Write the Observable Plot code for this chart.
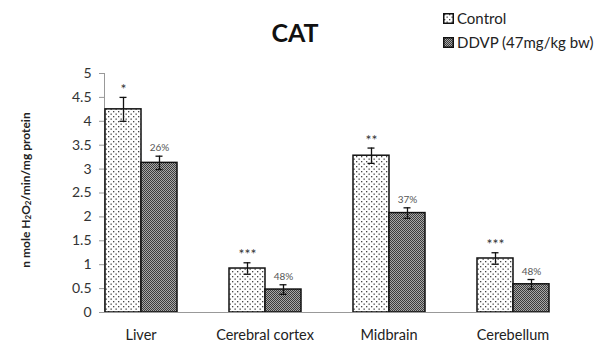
<!DOCTYPE html>
<html>
<head>
<meta charset="utf-8">
<script src="https://cdn.jsdelivr.net/npm/d3@7"></script>
<script src="https://cdn.jsdelivr.net/npm/@observablehq/plot@0.6"></script>
<style>
  html, body { margin: 0; padding: 0; background: #fff; }
  #wrap { position: relative; width: 594px; height: 344px; font-family: Lato, "Open Sans", sans-serif; }
  #title { position: absolute; left: 0; width: 590px; top: 20px; text-align: center; font-weight: bold; font-size: 25px; color: #111; line-height: 1; }
  #ylabel { position: absolute; left: 25px; top: 190px; transform: translate(-50%, -50%) rotate(-90deg); white-space: nowrap; font-weight: bold; font-size: 12px; color: #222; }
  #ylabel sub { font-size: 8px; vertical-align: -1px; }
  #legend { position: absolute; left: 443px; top: 6px; font-size: 15px; color: #222; }
  #legend .row { display: flex; align-items: center; height: 24px; }
  #legend svg { margin-right: 3px; }
</style>
</head>
<body>
<div id="wrap">
  <svg width="0" height="0" style="position:absolute">
    <defs>
      <!-- staggered dot fill for the control series -->
      <pattern id="dots" width="5" height="5" patternUnits="userSpaceOnUse">
        <rect width="5" height="5" fill="#fff"/>
        <rect x="1" y="1" width="1.3" height="1.3" fill="#444"/>
        <rect x="3.5" y="3.5" width="1.3" height="1.3" fill="#444"/>
      </pattern>
      <!-- pixel checkerboard fill for the treated series -->
      <pattern id="checker" width="2" height="2" patternUnits="userSpaceOnUse">
        <rect width="2" height="2" fill="#3c3c3c"/>
        <rect x="0" y="0" width="1" height="1" fill="#a8a8a8"/>
        <rect x="1" y="1" width="1" height="1" fill="#a8a8a8"/>
      </pattern>
    </defs>
  </svg>
  <div id="chart"></div>
  <div id="title">CAT</div>
  <div id="ylabel">n mole H<sub>2</sub>O<sub>2</sub>/min/mg protein</div>
  <div id="legend"></div>
</div>
<script>
// Catalase activity by organ / brain region
const categories = ["Liver", "Cerebral cortex", "Midbrain", "Cerebellum"];
const series = ["Control", "DDVP (47mg/kg bw)"];
const controlValues = [4.25, 0.92, 3.28, 1.13];
const controlErrors = [0.25, 0.12, 0.16, 0.12];
const ddvpValues = [3.13, 0.48, 2.08, 0.59];
const ddvpErrors = [0.14, 0.10, 0.11, 0.10];
const significance = ["*", "***", "**", "***"];
const decrease = ["26%", "48%", "37%", "48%"];
const yTicks = [0, 0.5, 1, 1.5, 2, 2.5, 3, 3.5, 4, 4.5, 5];
const fills = ["url(#dots)", "url(#checker)"];

const rows = [];
categories.forEach((c, i) => {
  rows.push({category: c, series: series[0], value: controlValues[i], err: controlErrors[i], note: significance[i]});
  rows.push({category: c, series: series[1], value: ddvpValues[i], err: ddvpErrors[i], note: decrease[i]});
});

const chart = Plot.plot({
  width: 594,
  height: 344,
  marginLeft: 77,
  marginRight: 19,
  marginTop: 73,
  marginBottom: 32,
  style: {fontFamily: "Lato, 'Open Sans', sans-serif", background: "transparent"},
  fx: {domain: categories, paddingInner: 0.414, paddingOuter: 0.207, label: null},
  x: {domain: series, padding: 0, axis: null},
  y: {domain: [0, 5], axis: null},
  color: {domain: series, range: fills},
  marks: [
    Plot.axisY(yTicks, {tickSize: 5, tickPadding: 8, tickFormat: d => String(d), fontSize: 14, fill: "#333", stroke: "#999", label: null}),
    Plot.axisFx({anchor: "bottom", tickSize: 0, tickPadding: 17, fontSize: 14.5, fill: "#222", label: null}),
    Plot.frame({facet: "super", anchor: "left", stroke: "#999"}),
    Plot.barY(rows, {fx: "category", x: "series", y: "value", fill: "series", stroke: "#111", strokeWidth: 1.5}),
    Plot.ruleX(rows, {fx: "category", x: "series", y1: d => d.value - d.err, y2: d => d.value + d.err, stroke: "#111", strokeWidth: 1.3}),
    Plot.tickY(rows, {fx: "category", x: "series", y: d => d.value + d.err, stroke: "#111", strokeWidth: 1.3, insetLeft: 14.5, insetRight: 14.5}),
    Plot.tickY(rows, {fx: "category", x: "series", y: d => d.value - d.err, stroke: "#111", strokeWidth: 1.3, insetLeft: 14.5, insetRight: 14.5}),
    Plot.text(rows.filter(d => d.series === series[0]), {fx: "category", x: "series", y: d => d.value + d.err, text: "note", dy: -8, fontSize: 14, fill: "#333"}),
    Plot.text(rows.filter(d => d.series === series[1]), {fx: "category", x: "series", y: d => d.value + d.err, text: "note", dy: -8, fontSize: 10, fill: "#555"}),
    Plot.frame({facet: "super", anchor: "bottom", stroke: "#999", insetLeft: -4})
  ]
});
document.getElementById("chart").appendChild(chart);

// Legend swatches share the pattern fills of the bars
const legend = d3.select("#legend");
series.forEach((s, i) => {
  const row = legend.append("div").attr("class", "row");
  const sw = row.append("svg").attr("width", 11).attr("height", 11);
  sw.append("rect").attr("x", 0.75).attr("y", 0.75).attr("width", 9.5).attr("height", 9.5)
    .attr("fill", fills[i]).attr("stroke", "#111").attr("stroke-width", 1.5);
  row.append("span").text(s);
});
</script>
</body>
</html>
